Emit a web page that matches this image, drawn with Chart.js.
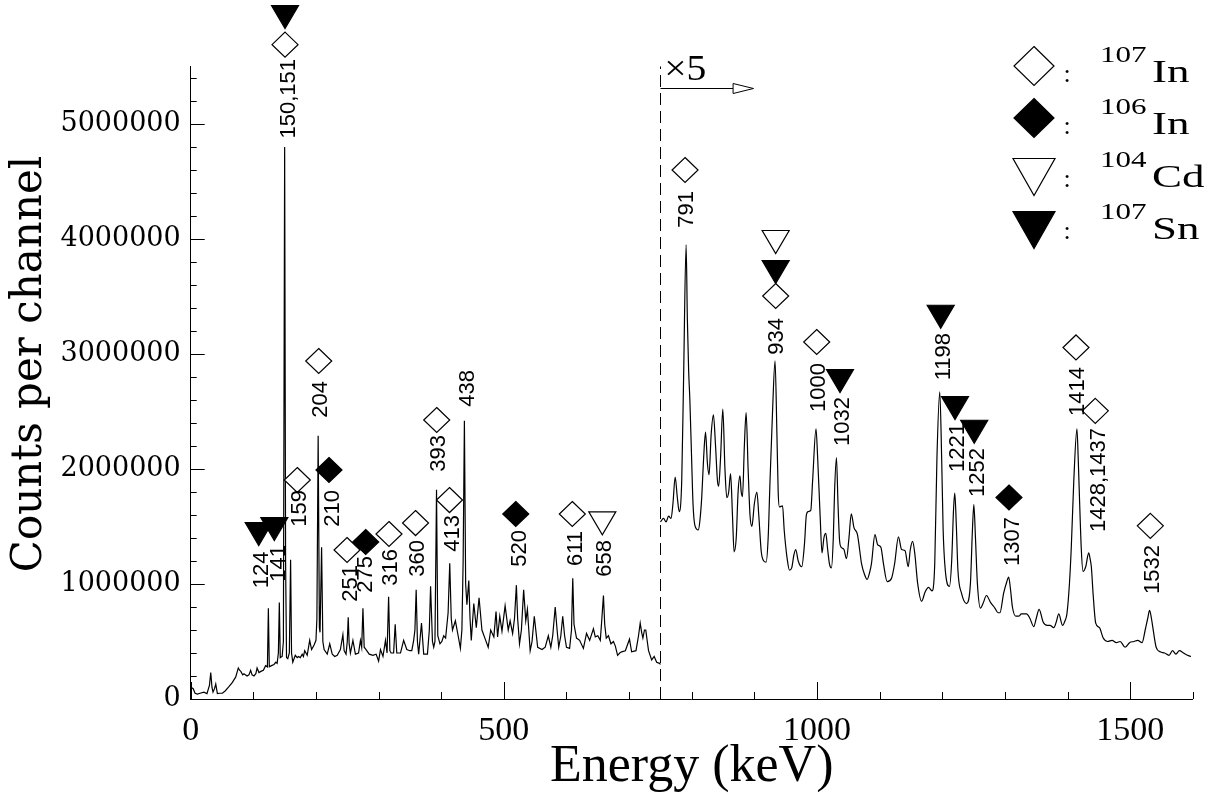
<!DOCTYPE html>
<html>
<head>
<meta charset="utf-8">
<title>Gamma-ray spectrum</title>
<script src="https://cdn.jsdelivr.net/npm/chart.js@4.4.0/dist/chart.umd.min.js"></script>
<style>
  html, body { margin: 0; padding: 0; background: #fff; }
  #chart { display: block; }
</style>
</head>
<body>
<canvas id="chart" width="1212" height="799"></canvas>
<script>
// counts are in millions per channel
const lowEnergy = [1, 4, 7, 10.6, 15, 21, 26, 30, 32, 34, 35.6, 38, 40, 42.6, 46, 50.5, 55, 61, 66, 71.8, 76, 78, 80, 83, 85, 90, 93, 95.7, 98, 101, 104, 106, 109, 112, 116, 119.6, 122.5, 124, 125.5, 129, 133, 136, 138, 140, 141.5, 143, 146, 148, 150, 151.5, 153, 155, 157.5, 159.5, 161, 163, 167, 170, 172, 175, 178, 180, 182, 186, 190, 193, 197, 200, 201.5, 203.5, 205.5, 206.5, 209, 211, 213, 218, 222, 226, 230, 234, 239, 243, 245, 248, 250, 251.5, 253, 255, 259, 263, 268, 271, 273, 275, 277, 280, 285, 291, 296, 300, 303, 307, 311, 313.5, 316, 318, 320, 324, 326.5, 329, 335, 340, 345, 350, 353, 356, 358, 360, 362, 364, 368.5, 372, 378, 381, 383, 386, 388, 390, 392.5, 394.5, 398, 401, 404, 407, 411, 413.6, 416, 418, 422.6, 427, 430.6, 433, 435, 437, 439, 441, 444, 446, 448, 452, 456, 460.4, 465, 471, 475, 479, 484, 487.5, 490, 493.5, 497, 502, 507, 510, 514, 517, 520, 522, 525, 528, 531.6, 535, 537.6, 542, 545, 548.6, 554, 561, 566, 571, 575, 578, 582, 585, 587.6, 591, 594, 597, 600, 605, 608, 610, 612, 616, 621, 627, 632, 637, 643, 646, 650, 654, 656.5, 659, 661, 663.5, 667, 671, 675, 678, 681.6, 685, 688, 694, 700.6, 704, 711, 715, 717.7, 720, 722, 724.5, 726.6, 729, 731, 736, 740, 744, 748.6, 750];
const lowCounts = [0.10, 0.09, 0.05, 0.043, 0.05, 0.06, 0.047, 0.12, 0.23, 0.10, 0.06, 0.09, 0.13, 0.047, 0.05, 0.05, 0.07, 0.107, 0.14, 0.19, 0.27, 0.25, 0.24, 0.21, 0.22, 0.20, 0.21, 0.25, 0.21, 0.20, 0.22, 0.27, 0.23, 0.24, 0.25, 0.29, 0.28, 0.79, 0.28, 0.29, 0.30, 0.32, 0.31, 0.40, 0.84, 0.36, 0.37, 0.50, 4.80, 1.20, 0.36, 0.35, 0.40, 1.21, 0.40, 0.32, 0.38, 0.36, 0.37, 0.36, 0.39, 0.37, 0.42, 0.38, 0.51, 0.43, 0.47, 0.51, 0.70, 2.29, 0.62, 0.58, 1.32, 0.50, 0.43, 0.39, 0.48, 0.39, 0.37, 0.38, 0.43, 0.56, 0.42, 0.39, 0.50, 0.71, 0.48, 0.40, 0.51, 0.39, 0.40, 0.51, 0.45, 0.79, 0.45, 0.43, 0.39, 0.38, 0.39, 0.33, 0.43, 0.37, 0.51, 0.40, 0.89, 0.42, 0.40, 0.40, 0.65, 0.40, 0.40, 0.51, 0.43, 0.42, 0.42, 0.51, 0.60, 0.95, 0.50, 0.39, 0.66, 0.39, 0.39, 0.60, 0.98, 0.50, 0.45, 0.50, 1.82, 0.55, 0.48, 0.50, 0.55, 0.53, 0.75, 1.18, 0.70, 0.60, 0.68, 0.55, 0.44, 0.60, 1.20, 2.42, 1.00, 0.82, 1.03, 0.70, 0.51, 0.83, 0.62, 0.88, 0.60, 0.51, 0.45, 0.60, 0.54, 0.76, 0.54, 0.72, 0.59, 0.81, 0.60, 0.68, 0.57, 0.70, 0.99, 0.70, 0.48, 0.60, 0.95, 0.68, 0.78, 0.42, 0.50, 0.72, 0.45, 0.43, 0.45, 0.55, 0.45, 0.55, 0.80, 0.60, 0.45, 0.55, 0.72, 0.55, 0.45, 0.44, 0.60, 1.05, 0.65, 0.53, 0.51, 0.44, 0.57, 0.51, 0.61, 0.54, 0.55, 0.51, 0.70, 0.90, 0.65, 0.53, 0.55, 0.48, 0.50, 0.46, 0.38, 0.40, 0.41, 0.42, 0.52, 0.41, 0.42, 0.55, 0.66, 0.58, 0.53, 0.60, 0.60, 0.50, 0.42, 0.34, 0.37, 0.32, 0.31, 0.30];

// above the break the spectrum is plotted multiplied by five (values as plotted)
const highEnergy = [750, 755, 759, 763, 767, 770, 773.5, 777, 780, 784, 787, 791, 793, 795, 797, 800, 802, 805, 810.5, 813, 816, 819, 822, 825, 827.6, 831, 834.6, 838, 841, 843, 846, 849.6, 853, 856, 859, 862, 865, 867.6, 871, 874, 877, 879, 881, 884, 886.8, 890, 893, 896, 900, 904, 907, 911, 915, 918.7, 922, 925, 929, 933, 936, 938, 940, 945, 947.6, 952.6, 956, 959.6, 963, 966, 970, 975.6, 980, 983, 986, 990, 993, 998.4, 1001, 1005, 1008, 1011, 1014, 1017, 1020, 1023, 1026, 1028, 1031, 1033.5, 1036, 1038.6, 1043, 1047, 1051, 1054.7, 1059, 1064.6, 1068, 1071, 1076, 1080, 1084, 1087, 1092.5, 1097, 1102, 1106, 1112, 1119, 1124, 1130, 1135, 1140.6, 1145.6, 1149, 1152.6, 1156, 1160.6, 1167, 1172.6, 1178, 1183.6, 1188, 1191.5, 1196, 1199, 1201.4, 1206, 1211.5, 1215, 1218, 1220, 1222.5, 1225, 1230.7, 1238.6, 1245, 1248, 1250.4, 1253, 1256, 1261, 1265, 1270.6, 1277, 1284, 1289, 1292, 1298, 1303, 1306, 1309, 1312, 1317.4, 1322, 1326.4, 1334.5, 1340, 1346, 1350, 1354.6, 1361, 1367.6, 1372, 1378, 1382, 1386, 1392, 1396, 1399, 1403, 1406, 1410, 1415, 1417, 1419, 1422, 1424.7, 1429, 1433.8, 1436, 1438, 1441, 1445, 1451, 1457, 1464, 1471, 1478, 1484, 1492, 1499, 1506, 1512, 1519, 1524, 1528, 1531, 1534, 1536, 1541.5, 1548, 1555, 1562, 1567.6, 1573, 1578.6, 1585, 1591.5, 1597];
const highCounts = [1.54, 1.57, 1.54, 1.59, 1.57, 1.70, 1.93, 1.75, 1.63, 1.90, 2.80, 3.95, 3.30, 2.86, 2.60, 2.05, 1.70, 1.51, 1.47, 1.55, 1.76, 2.10, 2.32, 2.05, 1.95, 2.30, 2.47, 2.20, 1.90, 1.85, 2.10, 2.52, 2.00, 1.75, 1.80, 1.96, 1.60, 1.28, 1.40, 1.80, 1.94, 1.80, 1.76, 2.20, 2.49, 2.00, 1.60, 1.50, 1.70, 1.80, 1.60, 1.28, 1.20, 1.19, 1.40, 1.90, 2.50, 2.94, 2.30, 1.80, 1.67, 1.68, 1.47, 1.21, 1.12, 1.14, 1.25, 1.30, 1.20, 1.15, 1.35, 1.60, 1.63, 1.64, 1.90, 2.35, 2.10, 1.59, 1.27, 1.40, 1.44, 1.30, 1.17, 1.14, 1.40, 1.80, 2.10, 1.70, 1.38, 1.32, 1.30, 1.22, 1.40, 1.61, 1.49, 1.43, 1.30, 1.18, 1.08, 1.04, 1.10, 1.18, 1.43, 1.34, 1.32, 1.18, 1.02, 1.05, 1.18, 1.41, 1.30, 1.29, 1.15, 1.30, 1.37, 1.27, 1.01, 0.85, 0.93, 0.97, 0.94, 1.18, 2.10, 2.67, 2.10, 1.47, 1.06, 0.98, 1.20, 1.65, 1.79, 1.50, 1.12, 0.92, 0.83, 1.01, 1.45, 1.69, 1.40, 1.01, 0.79, 0.83, 0.90, 0.84, 0.79, 0.75, 0.75, 0.92, 1.02, 1.06, 0.95, 0.80, 0.72, 0.72, 0.74, 0.74, 0.70, 0.63, 0.70, 0.78, 0.67, 0.64, 0.64, 0.62, 0.67, 0.74, 0.64, 0.68, 0.74, 1.00, 1.32, 1.90, 2.35, 2.10, 1.76, 1.30, 1.11, 1.15, 1.27, 1.22, 1.15, 0.90, 0.66, 0.62, 0.53, 0.50, 0.51, 0.49, 0.50, 0.45, 0.49, 0.50, 0.51, 0.49, 0.60, 0.70, 0.77, 0.70, 0.63, 0.45, 0.41, 0.40, 0.38, 0.42, 0.39, 0.42, 0.40, 0.38, 0.37];

const breakEnergy = 750;
const breakLabel = "\u00d75";

// peak identification marks: od open diamond, fd filled diamond, ot open triangle, ft filled triangle
const markerEnergy = [150.6, 150.6, 108.6, 133.5, 170.2, 204.4, 220.8, 249.6, 279.4, 316.6, 359, 392.8, 413.2, 519, 609.3, 657.2, 789.3, 934, 934, 934, 999.5, 1036.7, 1197.5, 1220.3, 1251, 1306.5, 1413.5, 1444.3, 1532.2];
const markerCounts = [5.93, 5.69, 1.435, 1.478, 1.904, 2.939, 1.991, 1.296, 1.365, 1.435, 1.53, 2.426, 1.73, 1.609, 1.609, 1.528, 4.6, 3.974, 3.713, 3.504, 3.104, 2.765, 3.324, 2.53, 2.324, 1.752, 3.057, 2.506, 1.506];
const markerKinds = ["ft", "od", "ft", "ft", "od", "od", "fd", "od", "fd", "od", "od", "od", "od", "fd", "od", "ot", "od", "ot", "ft", "od", "od", "ft", "ft", "ft", "ft", "fd", "od", "od", "od"];

const peakLabels = ["150,151", "124", "141", "159", "204", "210", "251", "275", "316", "360", "393", "413", "438", "520", "611", "658", "791", "934", "1000", "1032", "1198", "1221", "1252", "1307", "1414", "1428,1437", "1532"];
const labelEnergy = [153.3, 110.6, 137.3, 171.3, 204.9, 224, 252.8, 276.7, 316.5, 360.5, 394, 415.6, 439.6, 523, 611.2, 658.3, 789.3, 933, 1000, 1038, 1199.5, 1221.6, 1253.9, 1309.7, 1413.5, 1447, 1533.3];
const labelTop = [5.565, 1.283, 1.339, 1.817, 2.765, 1.817, 1.165, 1.243, 1.304, 1.383, 2.296, 1.6, 2.861, 1.47, 1.461, 1.383, 4.417, 3.313, 2.922, 2.626, 3.183, 2.4, 2.183, 1.583, 2.887, 2.357, 1.339];

const xTickValues = [0, 500, 1000, 1500];
const yTickValues = [0, 1000000, 2000000, 3000000, 4000000, 5000000];

const legendMass = ["107", "106", "104", "107"];
const legendElement = ["In", "In", "Cd", "Sn"];
const legendKinds = ["od", "fd", "ot", "ft"];

const yTitle = "Counts per channel";
const MEGA = 1000000;

function toPoints(energy, counts) {
  return energy.map((e, i) => ({ x: e, y: counts[i] * MEGA }));
}

function drawMarker(ctx, kind, cx, cy, hw, hh) {
  ctx.beginPath();
  if (kind === "od" || kind === "fd") {
    ctx.moveTo(cx, cy - hh);
    ctx.lineTo(cx + hw, cy);
    ctx.lineTo(cx, cy + hh);
    ctx.lineTo(cx - hw, cy);
  } else {
    ctx.moveTo(cx - hw, cy - hh);
    ctx.lineTo(cx + hw, cy - hh);
    ctx.lineTo(cx, cy + hh);
  }
  ctx.closePath();
  ctx.fillStyle = kind[0] === "f" ? "#000" : "#fff";
  ctx.fill();
  ctx.stroke();
}

// text squeezed or stretched sideways
function wideText(ctx, text, x, y, font, sx) {
  ctx.save();
  ctx.translate(x, y);
  ctx.scale(sx, 1);
  ctx.font = font;
  ctx.fillText(text, 0, 0);
  ctx.restore();
}

const decorations = {
  id: "decorations",
  afterDraw(chart) {
    const { ctx, chartArea } = chart;
    const xs = chart.scales.x;
    const ys = chart.scales.y;
    ctx.save();
    ctx.strokeStyle = "#000";
    ctx.fillStyle = "#000";
    ctx.lineWidth = 1;

    // inward ticks
    ctx.beginPath();
    for (let i = 0; i <= 16; i++) {
      const px = Math.round(xs.getPixelForValue(i * 100)) + 0.5;
      const len = i % 5 === 0 ? 17 : 7;
      ctx.moveTo(px, chartArea.bottom);
      ctx.lineTo(px, chartArea.bottom - len);
    }
    for (let i = 0; i <= 27; i++) {
      const py = Math.round(ys.getPixelForValue(i * 200000)) + 0.5;
      const len = i % 5 === 0 ? 14 : 6;
      ctx.moveTo(chartArea.left, py);
      ctx.lineTo(chartArea.left + len, py);
    }
    ctx.stroke();

    // y title
    ctx.save();
    ctx.translate(30, 364);
    ctx.rotate(-Math.PI / 2);
    ctx.textAlign = "center";
    ctx.textBaseline = "middle";
    ctx.font = "42px 'DejaVu Serif'";
    ctx.fillText(yTitle, 0, 0);
    ctx.restore();

    // scale break
    const bx = Math.round(xs.getPixelForValue(breakEnergy)) + 0.5;
    ctx.setLineDash([12, 6]);
    ctx.beginPath();
    ctx.moveTo(bx, ys.getPixelForValue(0));
    ctx.lineTo(bx, ys.getPixelForValue(5.5 * MEGA));
    ctx.stroke();
    ctx.setLineDash([]);

    const ay = Math.round(ys.getPixelForValue(5.313 * MEGA)) + 0.5;
    const ax1 = xs.getPixelForValue(866);
    const ax2 = xs.getPixelForValue(898.6);
    ctx.beginPath();
    ctx.moveTo(bx, ay);
    ctx.lineTo(ax1, ay);
    ctx.stroke();
    ctx.beginPath();
    ctx.moveTo(ax1, ay - 5);
    ctx.lineTo(ax2, ay);
    ctx.lineTo(ax1, ay + 5);
    ctx.closePath();
    ctx.fillStyle = "#fff";
    ctx.fill();
    ctx.stroke();

    ctx.fillStyle = "#000";
    ctx.textAlign = "left";
    ctx.textBaseline = "alphabetic";
    wideText(ctx, breakLabel, xs.getPixelForValue(756), ys.getPixelForValue(5.383 * MEGA), "36px 'Liberation Serif'", 1.1);

    // peak markers
    ctx.lineWidth = 1.2;
    markerEnergy.forEach((e, i) => {
      const kind = markerKinds[i];
      const diamond = kind === "od" || kind === "fd";
      drawMarker(ctx, kind, xs.getPixelForValue(e), ys.getPixelForValue(markerCounts[i] * MEGA),
        diamond ? 13 : 13.5, diamond ? 12.5 : 11.5);
    });

    // peak energies, rotated
    ctx.fillStyle = "#000";
    ctx.font = "22px 'Liberation Sans'";
    ctx.textAlign = "right";
    ctx.textBaseline = "alphabetic";
    peakLabels.forEach((t, i) => {
      ctx.save();
      ctx.translate(xs.getPixelForValue(labelEnergy[i]), ys.getPixelForValue(labelTop[i] * MEGA));
      ctx.rotate(-Math.PI / 2);
      ctx.fillText(t, 0, 8);
      ctx.restore();
    });

    // legend
    const rowBase = [82, 134, 187, 239];
    const rowMark = [66, 118, 177, 230];
    legendKinds.forEach((kind, i) => {
      const diamond = kind === "od" || kind === "fd";
      ctx.lineWidth = 1.2;
      drawMarker(ctx, kind, 1034, rowMark[i], diamond ? 20 : 21, diamond ? 19.5 : 18.5);
      ctx.fillStyle = "#000";
      ctx.textAlign = "center";
      ctx.font = "26px 'Liberation Serif'";
      ctx.fillText(":", 1067, rowBase[i]);
      ctx.textAlign = "left";
      wideText(ctx, legendMass[i], 1100, rowBase[i] - 20, "23px 'Liberation Serif'", 1.35);
      wideText(ctx, legendElement[i], 1152, rowBase[i], "31px 'Liberation Serif'", 1.45);
    });

    ctx.restore();
  },
};

const config = {
  type: "scatter",
  data: {
    datasets: [
      {
        label: "spectrum",
        data: toPoints(lowEnergy, lowCounts),
        showLine: true,
        borderColor: "#000",
        borderWidth: 1.2,
        pointRadius: 0,
        tension: 0,
      },
      {
        label: "spectrum x5",
        data: toPoints(highEnergy, highCounts),
        showLine: true,
        borderColor: "#000",
        borderWidth: 1.2,
        pointRadius: 0,
        cubicInterpolationMode: "monotone",
      },
    ],
  },
  options: {
    responsive: false,
    animation: false,
    devicePixelRatio: 1,
    layout: { padding: { top: 66.5, right: 19.2, bottom: 0, left: 0 } },
    plugins: {
      legend: { display: false },
      tooltip: { enabled: false },
    },
    scales: {
      x: {
        type: "linear",
        min: 0,
        max: 1600,
        afterBuildTicks: (axis) => {
          axis.ticks = xTickValues.map((v) => ({ value: v }));
        },
        afterFit: (axis) => {
          axis.height = 100;
        },
        grid: { display: false, drawTicks: false },
        border: { display: true, color: "#000", width: 1 },
        ticks: {
          color: "#000",
          padding: 12,
          autoSkip: false,
          maxRotation: 0,
          font: { family: "'Liberation Serif'", size: 34 },
          callback: (v) => String(v),
        },
        title: {
          display: true,
          text: "Energy (keV)",
          color: "#000",
          font: { family: "'Liberation Serif'", size: 52 },
          padding: { top: 0, bottom: 0 },
        },
      },
      y: {
        type: "linear",
        min: 0,
        max: 5500000,
        afterBuildTicks: (axis) => {
          axis.ticks = yTickValues.map((v) => ({ value: v }));
        },
        afterFit: (axis) => {
          axis.width = 190.7;
        },
        grid: { display: false, drawTicks: false },
        border: { display: true, color: "#000", width: 1 },
        ticks: {
          color: "#000",
          padding: 10,
          font: { family: "'DejaVu Serif'", size: 27 },
          callback: (v) => String(v),
        },
      },
    },
  },
  plugins: [decorations],
};

new Chart(document.getElementById("chart"), config);
</script>
</body>
</html>
